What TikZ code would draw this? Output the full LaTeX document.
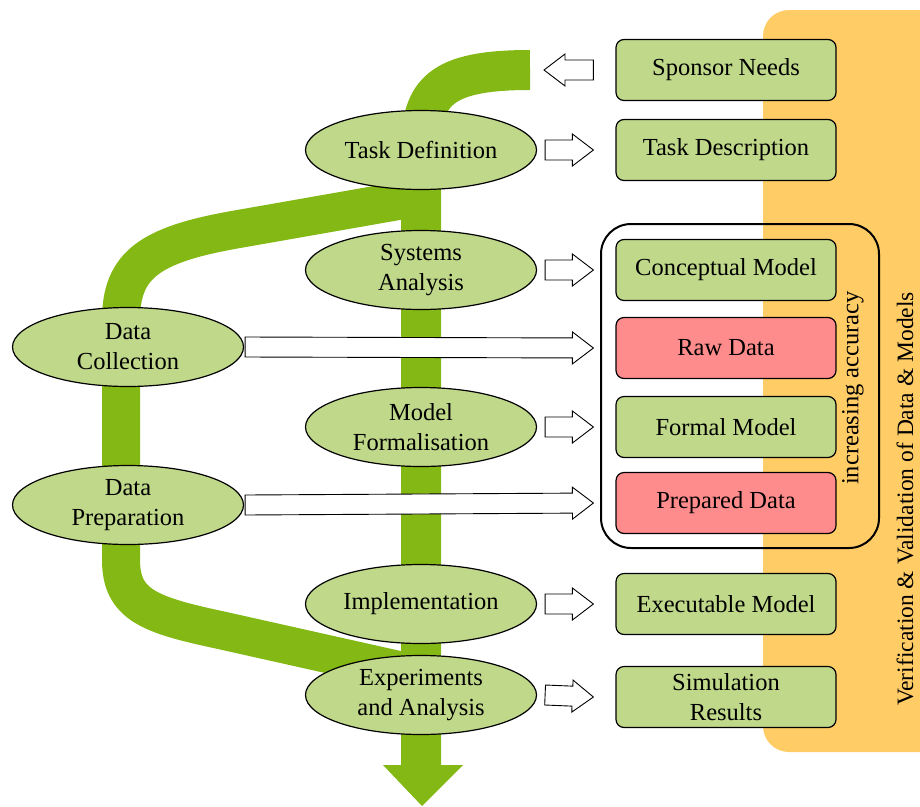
\documentclass[tikz,border=0pt]{standalone}
\usepackage{fontspec}
\setmainfont{Liberation Serif}
\usetikzlibrary{shapes.geometric, calc}
\definecolor{bandgreen}{RGB}{131,184,21}
\definecolor{boxgreen}{RGB}{192,216,138}
\definecolor{boxred}{RGB}{255,140,140}
\definecolor{vvorange}{RGB}{255,204,102}
\tikzset{
x=1pt, y=-1pt, % pixel-like units, y going down
font=\fontsize{24.5}{30}\selectfont,
phase/.style={ellipse, draw, line width=1.2pt, fill=boxgreen, minimum width=231pt, minimum height=79pt, inner sep=0pt, align=center}, % process steps
product/.style={rectangle, rounded corners=8pt, draw, line width=1.2pt, fill=boxgreen, minimum width=220pt, minimum height=61pt, align=center}, % results on the right
dataprod/.style={product, fill=boxred}, % data results
band/.style={draw=bandgreen, line width=40pt}, % the green process path
blockarrow/.style={draw, fill=white, line width=0.9pt, to path={
  ($(\tikztostart)!10pt!90:(\tikztotarget)$) --
  ($($(\tikztotarget)!21pt!(\tikztostart)$)!10pt!90:(\tikztotarget)$) --
  ($($(\tikztotarget)!21pt!(\tikztostart)$)!16pt!90:(\tikztotarget)$) --
  (\tikztotarget) --
  ($($(\tikztotarget)!21pt!(\tikztostart)$)!16pt!-90:(\tikztotarget)$) --
  ($($(\tikztotarget)!21pt!(\tikztostart)$)!10pt!-90:(\tikztotarget)$) --
  ($(\tikztostart)!10pt!-90:(\tikztotarget)$) -- cycle}}, % hollow block arrow
}
\begin{document}
\begin{tikzpicture}
\useasboundingbox (0,0) rectangle (920,806);
% V&V background
\fill[vvorange, rounded corners=26pt] (763,10) rectangle (960,752);
% green process path
\coordinate (bandend) at (530,70);
\draw[band] (421,767) -- (421,150) .. controls (421,92) and (440,70) .. (bandend);
\draw[band, line width=38pt] (421,197) -- (233,230) .. controls (150,245) and (121,265) .. (121,320) -- (121,560) .. controls (121,605) and (150,615) .. (220,630) -- (421,675);
\fill[bandgreen] (383,765) -- (463,765) -- (422,806) -- cycle;
% process steps
\node[phase] (taskdef) at (421,150) {Task Definition};
\node[phase] (sysana) at (421,270) {Systems\\Analysis};
\node[phase] (modform) at (421,427) {Model\\Formalisation};
\node[phase] (impl) at (421,604) {Implementation};
\node[phase] (exper) at (421,695) {Experiments\\and Analysis};
\node[phase] (datacoll) at (128,347) {Data\\Collection};
\node[phase] (dataprep) at (128,505) {Data\\Preparation};
% results
\node[product] (sponsor) at (726,70) {Sponsor Needs};
\node[product] (taskdesc) at (726,150) {Task Description};
\node[product] (concept) at (726,270) {Conceptual Model};
\node[dataprod] (rawdata) at (726,348) {Raw Data};
\node[product] (formal) at (726,427) {Formal Model};
\node[dataprod] (prepdata) at (726,503) {Prepared Data};
\node[product] (exec) at (726,604) {Executable Model};
\node[product] (simres) at (726,697) {Simulation\\Results};
% accuracy frame
\draw[line width=2pt, rounded corners=30pt] (601,224) rectangle (879,548);
\node[rotate=90] (acclabel) at (853,388) {increasing accuracy};
\node[rotate=90, font=\fontsize{23.5}{28}\selectfont] (vvlabel) at (905,499) {Verification \& Validation of Data \& Models};
% block arrows
\draw[blockarrow] ([xshift=-22pt]sponsor.west) to ([xshift=14pt]bandend);
\draw[blockarrow] ([xshift=8pt]taskdef.east) to ([xshift=-22pt]taskdesc.west);
\draw[blockarrow] ([xshift=8pt]sysana.east) to ([xshift=-22pt]concept.west);
\draw[blockarrow] ([xshift=1pt]datacoll.east) to ([xshift=-22pt]rawdata.west);
\draw[blockarrow] ([xshift=8pt]modform.east) to ([xshift=-22pt]formal.west);
\draw[blockarrow] ([xshift=1pt]dataprep.east) to ([xshift=-22pt]prepdata.west);
\draw[blockarrow] ([xshift=8pt]impl.east) to ([xshift=-22pt]exec.west);
\draw[blockarrow] ([xshift=8pt]exper.east) to ([xshift=-22pt]simres.west);
\end{tikzpicture}
\end{document}
